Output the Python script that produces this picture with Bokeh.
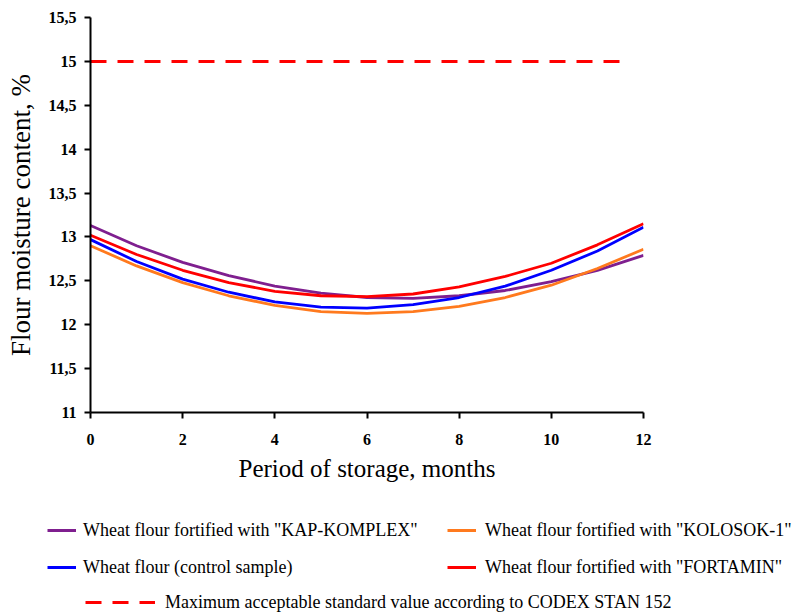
from bokeh.plotting import figure
from bokeh.models import Range1d, FixedTicker, Legend, LegendItem
from bokeh.embed import file_html
from bokeh.resources import INLINE

# ---- data ----
months = [0, 1, 2, 3, 4, 5, 6, 7, 8, 9, 10, 11, 12]
kap_komplex = [13.13, 12.90, 12.71, 12.56, 12.44, 12.36, 12.31, 12.30, 12.33, 12.39, 12.49, 12.62, 12.79]
kolosok_1 = [12.90, 12.67, 12.48, 12.33, 12.22, 12.15, 12.13, 12.15, 12.21, 12.31, 12.45, 12.64, 12.86]
control = [12.97, 12.72, 12.52, 12.37, 12.26, 12.20, 12.19, 12.23, 12.31, 12.44, 12.62, 12.84, 13.11]
fortamin = [13.02, 12.80, 12.62, 12.48, 12.38, 12.33, 12.32, 12.35, 12.43, 12.55, 12.70, 12.91, 13.15]
codex_x = [0, 11.7]
codex_y = [15, 15]

x_ticks = [0, 2, 4, 6, 8, 10, 12]
y_ticks = [11, 11.5, 12, 12.5, 13, 13.5, 14, 14.5, 15, 15.5]
y_tick_labels = ["11", "11,5", "12", "12,5", "13", "13,5", "14", "14,5", "15", "15,5"]

labels = {
    "kap": 'Wheat flour fortified with "KAP-KOMPLEX"',
    "kol": 'Wheat flour fortified with "KOLOSOK-1"',
    "ctl": "Wheat flour (control sample)",
    "fort": 'Wheat flour fortified with "FORTAMIN"',
    "codex": "Maximum acceptable standard value according to CODEX STAN 152",
}

colors = {"kap": "#7F1F8F", "kol": "#FF7A1E", "ctl": "#0000FF", "fort": "#FF0000", "codex": "#FF0000"}
series = {"kap": kap_komplex, "kol": kolosok_1, "ctl": control, "fort": fortamin}
SERIF = "Liberation Serif"
LW = 2.8
DASH = "16 11"

p = figure(width=800, height=490, output_backend="svg", toolbar_location=None,
           x_range=Range1d(0, 12), y_range=Range1d(11, 15.5),
           min_border_left=90, min_border_right=157, min_border_top=17, min_border_bottom=78)

p.outline_line_color = None
p.xgrid.visible = False
p.ygrid.visible = False

for ax in (p.xaxis[0], p.yaxis[0]):
    ax.axis_line_width = 2
    ax.axis_line_color = "black"
    ax.major_tick_line_width = 2
    ax.major_tick_line_color = "black"
    ax.major_tick_in = 0
    ax.major_tick_out = 6
    ax.minor_tick_line_color = None
    ax.major_label_text_font = SERIF
    ax.major_label_text_font_style = "bold"
    ax.major_label_text_font_size = "16px"
    ax.major_label_text_color = "black"
    ax.axis_label_text_font = SERIF
    ax.axis_label_text_font_style = "normal"
    ax.axis_label_text_color = "black"

p.xaxis[0].axis_label_text_font_size = "25px"
p.yaxis[0].axis_label_text_font_size = "27px"
p.xaxis[0].ticker = FixedTicker(ticks=x_ticks)
p.yaxis[0].ticker = FixedTicker(ticks=y_ticks)
p.yaxis[0].major_label_overrides = {t: l for t, l in zip(y_ticks, y_tick_labels)}
p.xaxis[0].axis_label = "Period of storage, months"
p.yaxis[0].axis_label = "Flour moisture content, %"
p.xaxis[0].major_label_standoff = 15
p.xaxis[0].axis_label_standoff = 7
p.yaxis[0].major_label_standoff = 8
p.yaxis[0].axis_label_standoff = 10

p.line(codex_x, codex_y, line_color=colors["codex"], line_width=3, line_dash=DASH)
for k in ("kap", "kol", "ctl", "fort"):
    p.line(months, series[k], line_color=colors[k], line_width=LW)

# ---- legend panel: a second root below; its key glyphs lie outside its own view ----
p2 = figure(width=800, height=123, output_backend="svg", toolbar_location=None,
            x_range=Range1d(100, 101), y_range=Range1d(100, 101),
            min_border_left=0, min_border_right=0, min_border_top=0, min_border_bottom=0)
p2.axis.visible = False
p2.grid.visible = False
p2.outline_line_color = None

keys = {}
for k in ("kap", "kol", "ctl", "fort"):
    keys[k] = p2.line(months, series[k], line_color=colors[k], line_width=3)
keys["codex"] = p2.line(codex_x, codex_y, line_color=colors["codex"], line_width=3, line_dash=DASH)


def make_legend(names, loc, glyph_width=29, standoff=7):
    lg = Legend(items=[LegendItem(label=labels[n], renderers=[keys[n]]) for n in names],
                location=loc, orientation="vertical")
    lg.padding = 0
    lg.margin = 0
    lg.spacing = 15
    lg.border_line_color = None
    lg.background_fill_alpha = 0
    lg.glyph_width = glyph_width
    lg.glyph_height = 22
    lg.label_height = 22
    lg.label_standoff = standoff
    lg.label_text_font = SERIF
    lg.label_text_font_size = "18px"
    lg.label_text_color = "black"
    return lg


p2.add_layout(make_legend(["kap", "ctl"], (47, 35)), "center")
p2.add_layout(make_legend(["kol", "fort"], (447, 35), standoff=9), "center")
p2.add_layout(make_legend(["codex"], (85, 0), glyph_width=70, standoff=10), "center")

open("out.html", "w").write(file_html([p, p2], INLINE))
